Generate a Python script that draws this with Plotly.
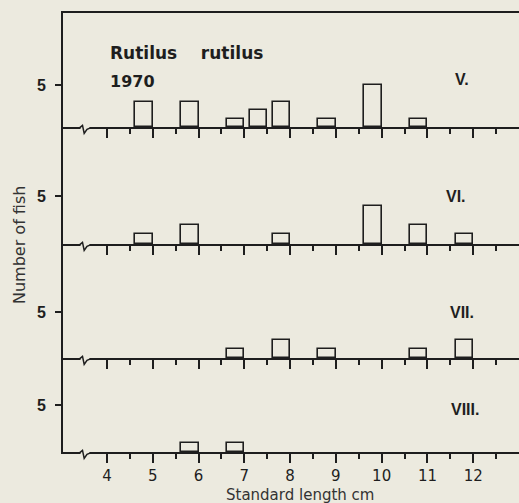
import plotly.graph_objects as go
from plotly.subplots import make_subplots

# ---- data: bin upper edges (cm) and counts per sample ----
len_V = [5, 6, 7, 7.5, 8, 9, 10, 11]
cnt_V = [3, 3, 1, 2, 3, 1, 5, 1]
len_VI = [5, 6, 8, 10, 11, 12]
cnt_VI = [1, 2, 1, 4, 2, 1]
len_VII = [7, 8, 9, 11, 12]
cnt_VII = [1, 2, 1, 1, 2]
len_VIII = [6, 7]
cnt_VIII = [1, 1]
panel_labels = ["V.", "VI.", "VII.", "VIII."]
x_ticks = [4, 5, 6, 7, 8, 9, 10, 11, 12]
x_minor = [4.5, 5.5, 6.5, 7.5, 8.5, 9.5, 10.5, 11.5, 12.5]

BG = "#ECEADF"
INK = "#1e1e1e"
FONT = "DejaVu Sans"
BW = 0.38
XMIN, XMAX = 3.04, 13.0
L, T, PLOT_W, PLOT_H = 63, 13, 456, 439

panels = [(len_V, cnt_V), (len_VI, cnt_VI), (len_VII, cnt_VII), (len_VIII, cnt_VIII)]
domains = [[0.7403, 1.0], [0.4738, 0.7403], [0.2141, 0.4738], [0.0, 0.2141]]
yranges = [[0, 13.57], [0, 12.3], [0, 12.4], [0, 10.0]]
label_pos = [(11.76, 5.6), (11.63, 5.0), (11.76, 5.0), (11.82, 4.5)]


def PX(px):
    return (px - L) / PLOT_W


def PY(py_down_offset, base):
    return base - py_down_offset / PLOT_H


fig = make_subplots(rows=4, cols=1)

for i, (xs, ys) in enumerate(panels):
    r = i + 1
    fig.add_trace(go.Bar(x=xs, y=ys, width=BW, offset=-BW,
                         marker=dict(color="rgba(0,0,0,0)", line=dict(color=INK, width=1.6)),
                         showlegend=False, hoverinfo="skip"), row=r, col=1)
    xa = "xaxis" if r == 1 else f"xaxis{r}"
    ya = "yaxis" if r == 1 else f"yaxis{r}"
    fig.layout[xa].update(range=[XMIN, XMAX], showline=True, linecolor=INK, linewidth=1.6,
                          ticks="outside", tickvals=x_ticks, ticklen=9, tickwidth=1.5, tickcolor=INK,
                          minor=dict(tickvals=x_minor, ticks="outside", ticklen=5, tickwidth=1.5, tickcolor=INK),
                          showgrid=False, zeroline=False, showticklabels=(r == 4),
                          tickfont=dict(family=FONT, size=15, color=INK),
                          mirror=(r == 1))
    fig.layout[ya].update(domain=domains[i], range=yranges[i], showline=True, linecolor=INK,
                          linewidth=1.6, ticks="outside", tickvals=[5], ticktext=["5"], ticklen=6,
                          tickwidth=1.5, tickcolor=INK, showgrid=False, zeroline=False,
                          tickfont=dict(family="Liberation Sans", size=16, color=INK, weight="bold"),
                          ticklabelstandoff=6)
    xr = "x" if r == 1 else f"x{r}"
    yr = "y" if r == 1 else f"y{r}"
    fig.add_annotation(x=label_pos[i][0], y=label_pos[i][1], xref=xr, yref=yr,
                       text=panel_labels[i], showarrow=False, xanchor="center", yanchor="middle",
                       font=dict(family="Liberation Sans", size=16, color=INK, weight="bold"))
    # axis break on the baseline (paper coords, drawn over the axis line)
    base = domains[i][0]
    off = 0.9
    fig.add_shape(type="rect", xref="paper", yref="paper",
                  x0=PX(80.5), x1=PX(89.5), y0=PY(off - 2.5, base), y1=PY(off + 2.5, base),
                  fillcolor=BG, line=dict(width=0), layer="above")
    path = (f"M {PX(79.5)},{PY(off, base)} L {PX(82.5)},{PY(off - 2.5, base)} "
            f"L {PX(84.2)},{PY(off + 5.5, base)} L {PX(87)},{PY(off + 1.5, base)} "
            f"L {PX(90.5)},{PY(off, base)}")
    fig.add_shape(type="path", xref="paper", yref="paper", path=path,
                  line=dict(color=INK, width=1.5), layer="above")

fig.add_annotation(x=PX(108), y=PY(53 - T, 1.0), xref="paper", yref="paper",
                   text="Rutilus\u00a0\u00a0\u00a0\u00a0rutilus", showarrow=False,
                   xanchor="left", yanchor="middle",
                   font=dict(family=FONT, size=17, color=INK, weight="bold"))
fig.add_annotation(x=PX(108), y=PY(82 - T, 1.0), xref="paper", yref="paper",
                   text="1970", showarrow=False, xanchor="left", yanchor="middle",
                   font=dict(family=FONT, size=16, color=INK, weight="bold"))
fig.add_annotation(x=PX(300), y=PY(495 - T, 1.0), xref="paper", yref="paper",
                   text="Standard length cm", showarrow=False, xanchor="center", yanchor="middle",
                   font=dict(family=FONT, size=15, color="#333333"))
fig.add_annotation(x=PX(19), y=PY(245 - T, 1.0), xref="paper", yref="paper",
                   text="Number of fish", showarrow=False, textangle=-90,
                   xanchor="center", yanchor="middle",
                   font=dict(family=FONT, size=16, color="#333333"))

fig.update_layout(width=519, height=503, margin=dict(l=L, r=0, t=T, b=503 - T - PLOT_H),
                  paper_bgcolor=BG, plot_bgcolor=BG, bargap=0, showlegend=False)

fig.write_html("out.html")
